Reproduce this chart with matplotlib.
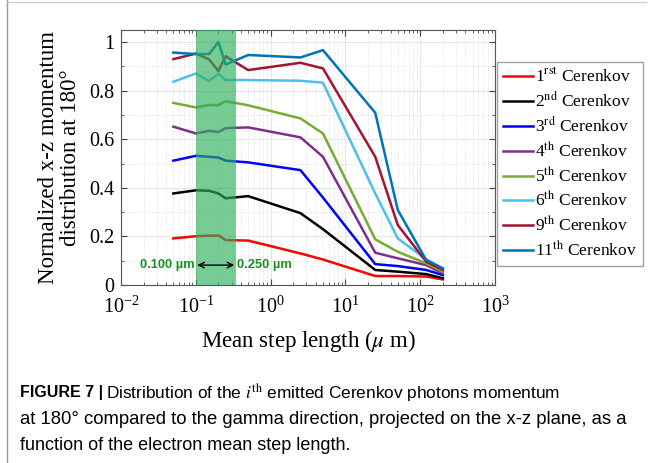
import matplotlib
matplotlib.use("Agg")
import matplotlib.pyplot as plt
from matplotlib.lines import Line2D

plt.rcParams['font.family'] = ['Liberation Serif', 'DejaVu Serif']
plt.rcParams['mathtext.fontset'] = 'stix'

# mean step length (um)
step = [0.05, 0.1, 0.15, 0.2, 0.25, 0.5, 2.5, 5, 25, 50, 120, 200]

c1 = [0.192, 0.201, 0.203, 0.204, 0.185, 0.183, 0.130, 0.105, 0.037, 0.037, 0.035, 0.023]
c2 = [0.377, 0.390, 0.388, 0.377, 0.357, 0.366, 0.296, 0.230, 0.062, 0.055, 0.045, 0.028]
c3 = [0.512, 0.532, 0.528, 0.525, 0.512, 0.505, 0.473, 0.360, 0.086, 0.078, 0.062, 0.041]
c4 = [0.652, 0.624, 0.635, 0.630, 0.646, 0.649, 0.608, 0.528, 0.133, 0.110, 0.082, 0.048]
c5 = [0.750, 0.731, 0.741, 0.741, 0.757, 0.740, 0.686, 0.624, 0.188, 0.137, 0.089, 0.055]
c6 = [0.837, 0.871, 0.840, 0.869, 0.844, 0.844, 0.841, 0.833, 0.377, 0.192, 0.106, 0.065]
c9 = [0.930, 0.953, 0.929, 0.881, 0.942, 0.885, 0.915, 0.892, 0.528, 0.247, 0.096, 0.062]
c11 = [0.957, 0.951, 0.951, 1.000, 0.908, 0.947, 0.937, 0.967, 0.709, 0.309, 0.103, 0.069]

series = [c1, c2, c3, c4, c5, c6, c9, c11]
labels = [r"1$^{\rm rst}$ Cerenkov", r"2$^{\rm nd}$ Cerenkov", r"3$^{\rm rd}$ Cerenkov",
          r"4$^{\rm th}$ Cerenkov", r"5$^{\rm th}$ Cerenkov", r"6$^{\rm th}$ Cerenkov",
          r"9$^{\rm th}$ Cerenkov", r"11$^{\rm th}$ Cerenkov"]
colors = ['#ff0000', '#000000', '#0000ff', '#7e2f8e', '#77ac30', '#4dbeee', '#a2142f', '#0072bd']

band = (0.1, 0.34)

fig = plt.figure(figsize=(6.51, 4.63), dpi=100)
ax = fig.add_axes([0.186, 0.3844, 0.5745, 0.5508])

for y, c, lab in zip(series, colors, labels):
    ax.plot(step, y, color=c, lw=1.8, label=lab, zorder=3)

ax.axvspan(band[0], band[1], color='#2eaf5c', alpha=0.65, lw=0, zorder=4)
ax.annotate('', xy=(band[0], 0.082), xytext=(band[1], 0.082),
            arrowprops=dict(arrowstyle='<->', color='black', lw=1, shrinkA=1, shrinkB=1), zorder=5)
ax.text(0.097, 0.082, '0.100 µm', color='#14921f', fontsize=9.3, fontweight='bold',
        family=['Liberation Sans'], ha='right', va='center', zorder=5)
ax.text(0.35, 0.082, '0.250 µm', color='#14921f', fontsize=9.3, fontweight='bold',
        family=['Liberation Sans'], ha='left', va='center', zorder=5)

ax.set_xscale('log')
ax.set_xlim(1e-2, 1e3)
ax.set_ylim(0, 1.05)
ax.set_xticks([1e-2, 1e-1, 1e0, 1e1, 1e2, 1e3])
ax.set_yticks([0, 0.2, 0.4, 0.6, 0.8, 1])
ax.set_yticklabels(['0', '0.2', '0.4', '0.6', '0.8', '1'])
ax.set_yticks([0.1, 0.3, 0.5, 0.7, 0.9], minor=True)
ax.tick_params(which='both', direction='in', top=True, right=True, labelsize=14.5, color='#444444')
ax.tick_params(which='major', length=4)
ax.tick_params(which='minor', length=2)
ax.tick_params(axis='x', which='major', pad=8)
ax.tick_params(axis='y', which='major', pad=5)
ax.grid(which='major', color='#e6e6e6', lw=0.8)
ax.grid(which='minor', color='#d8d8d8', lw=0.6, ls=':')
for s in ax.spines.values():
    s.set_color('#555555')
    s.set_linewidth(0.8)

ax.set_xlabel(r"Mean step length ($\mu$ m)", fontsize=16.5, labelpad=8)
ax.set_ylabel("Normalized x-z momentum\ndistribution at 180°", fontsize=16.5, labelpad=6,
              linespacing=1.05)

ax.legend(loc='upper left', bbox_to_anchor=(1.005, 0.875), fontsize=12.5, frameon=True,
          fancybox=False, edgecolor='#888888', handlelength=1.7, handletextpad=0.15,
          labelspacing=0.3, borderpad=0.35, borderaxespad=0)

# caption
cap_font = ['Liberation Sans Narrow', 'Liberation Sans']
t1 = fig.text(20 / 651, 1 - 393 / 463, "FIGURE 7 |", fontsize=11.5, fontweight='bold',
              family=cap_font, va='center', ha='left')
fig.canvas.draw()
bb = t1.get_window_extent()
fig.text((bb.x1 + 3) / 651, 1 - 393 / 463,
         r"Distribution of the $\it{i}^{\rm th}$ emitted Cerenkov photons momentum",
         fontsize=12.4, family=cap_font, va='center', ha='left')
fig.text(20 / 651, 1 - 420 / 463,
         "at 180° compared to the gamma direction, projected on the x-z plane, as a",
         fontsize=13.3, family=cap_font, va='center', ha='left')
fig.text(20 / 651, 1 - 446 / 463, "function of the electron mean step length.",
         fontsize=13, family=cap_font, va='center', ha='left')

# panel frame
fig.add_artist(Line2D([7 / 651, 7 / 651], [0, 1], color='#999999', lw=1))
fig.add_artist(Line2D([7 / 651, 646 / 651], [1 - 1.5 / 463, 1 - 1.5 / 463], color='#cccccc', lw=1))

fig.savefig('out.png', dpi=100)
